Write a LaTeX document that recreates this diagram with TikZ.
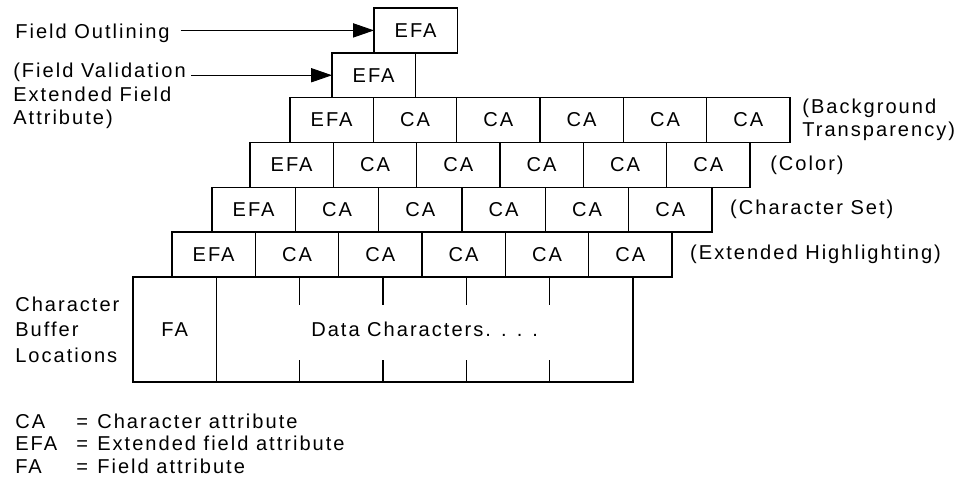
\documentclass[tikz,border=0pt]{standalone}
\usepackage{fontspec}
\setmainfont[LetterSpace=10]{Liberation Sans}
\usetikzlibrary{arrows.meta,positioning}

\tikzset{
	cell/.style={draw, line width=1.1pt, minimum width=2cm, minimum height=1.076cm, inner sep=0pt, outer sep=0pt},
	lbl/.style={inner sep=0pt, align=left},
	arr/.style={line width=0.6pt, -{Triangle[length=0.5cm, width=0.34cm]}}
}

\begin{document}
\begin{tikzpicture}[line cap=butt, line join=miter, font=\fontsize{13.7}{16}\selectfont]
	
	\useasboundingbox (0,0) rectangle (23.04,-11.688);
	
	% Hai ô EFA trên cùng
	\node[cell] (efa0) at (9.976,-0.73) {EFA};
	\node[cell] (efa1) at (8.968,-1.806) {EFA};
	
	% Các hàng EFA + CA
	\foreach \x/\y [count=\r from 2] in {6.96/-2.882, 6.0/-3.958, 5.088/-5.034, 4.128/-6.11}{
		\node[cell] (r\r-1) at ({\x+1},\y) {EFA};
		\foreach \c in {2,...,6}
			\node[cell] (r\r-\c) at ({\x+2*\c-1},\y) {CA};
	}
	
	% Vùng đệm ký tự
	\node[cell, minimum height=2.52cm] (fa) at (4.192,-7.908) {FA};
	\node[cell, minimum width=10cm, minimum height=2.52cm] (data) at (10.192,-7.908) {Data Characters. . . .};
	\foreach \k in {1,...,4}{
		\draw[line width=1.1pt] ([xshift=\k*2cm]data.north west) -- ++(0,-0.672);
		\draw[line width=1.1pt] ([xshift=\k*2cm]data.south west) -- ++(0,0.528);
	}
	
	% Nhãn bên trái
	\node[lbl, anchor=base west] (fo) at (0.36,-0.936) {Field Outlining};
	\node[lbl, anchor=north west] (fv) at (0.312,-1.512) {(Field Validation\\Extended Field\\Attribute)};
	\node[lbl, anchor=west, font=\fontsize{13.7}{17.5}\selectfont] (cbl) at (0.36,-7.908) {Character\\Buffer\\Locations};
	
	\draw[arr] ([xshift=0.26cm]fo.east |- efa0.west) -- (efa0.west);
	\draw[arr] ([xshift=0.12cm]fv.east |- efa1.west) -- (efa1.west);
	
	% Nhãn bên phải
	\node[lbl, right=0.29cm of r2-6] (bg) {(Background\\Transparency)};
	\node[lbl, right=0.48cm of r3-6] (col) {(Color)};
	\node[lbl, right=0.43cm of r4-6] (cs) {(Character Set)};
	\node[lbl, right=0.43cm of r5-6] (eh) {(Extended Highlighting)};
	
	% Chú thích
	\node[lbl, anchor=base west, font=\fontsize{13.7}{15.4}\selectfont] (key) at (0.36,-10.272) {%
		\begin{tabular}[t]{@{}p{1.464cm}@{}p{0.504cm}@{}l@{}}
			CA & = & Character attribute\\
			EFA & = & Extended field attribute\\
			FA & = & Field attribute
		\end{tabular}};
	
\end{tikzpicture}
\end{document}
